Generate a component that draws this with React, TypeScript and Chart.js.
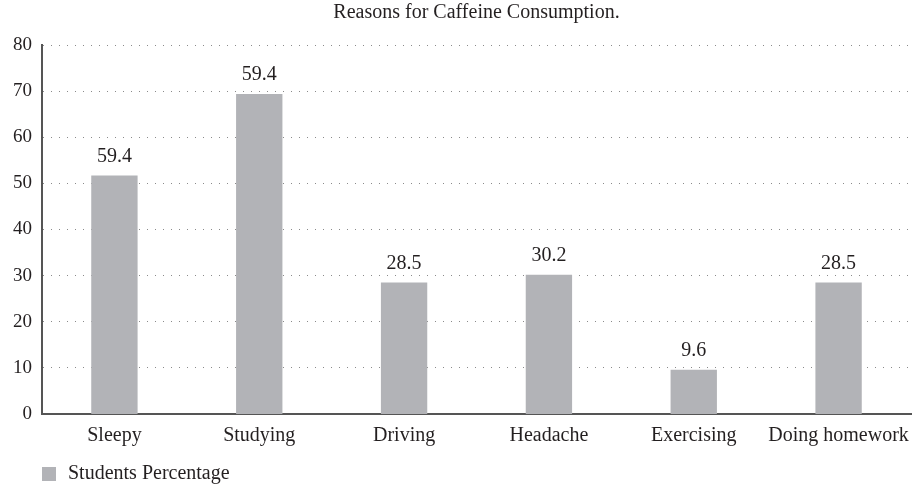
import React, { useEffect, useRef } from "react";
import { Chart, registerables } from "chart.js";

Chart.register(...registerables);

const categories = ["Sleepy", "Studying", "Driving", "Headache", "Exercising", "Doing homework"];
const barValues = [51.7, 69.4, 28.5, 30.2, 9.6, 28.5];
const valueLabels = ["59.4", "59.4", "28.5", "30.2", "9.6", "28.5"];
const yTicks = [0, 10, 20, 30, 40, 50, 60, 70, 80];
const seriesName = "Students Percentage";
const titleText = "Reasons for Caffeine Consumption.";

const FONT = "'Liberation Serif', 'Times New Roman', serif";
const TEXT_COLOR = "#231f20";
const BAR_COLOR = "#b2b3b7";

const overlayPlugin = {
  id: "overlay",
  afterDraw(chart: any) {
    const ctx = chart.ctx;
    const area = chart.chartArea;
    const meta = chart.getDatasetMeta(0);
    ctx.save();
    ctx.fillStyle = TEXT_COLOR;
    // value labels
    ctx.font = `20px ${FONT}`;
    ctx.textAlign = "center";
    ctx.textBaseline = "alphabetic";
    meta.data.forEach((bar: any, i: number) => {
      ctx.fillText(valueLabels[i], bar.x, bar.y - 14);
    });
    // title
    ctx.font = `20px ${FONT}`;
    ctx.textBaseline = "middle";
    ctx.fillText(titleText, (area.left + area.right) / 2, 13);
    // legend
    ctx.fillStyle = BAR_COLOR;
    ctx.fillRect(area.left, 467, 14, 14);
    ctx.fillStyle = TEXT_COLOR;
    ctx.textAlign = "left";
    ctx.font = `20px ${FONT}`;
    ctx.fillText(seriesName, area.left + 26, 474);
    ctx.restore();
  },
};

export default function App() {
  const ref = useRef<HTMLCanvasElement | null>(null);
  useEffect(() => {
    document.body.style.margin = "0";
    const chart = new Chart(ref.current as HTMLCanvasElement, {
      type: "bar",
      data: {
        labels: categories,
        datasets: [
          {
            label: seriesName,
            data: barValues,
            backgroundColor: BAR_COLOR,
            categoryPercentage: 1,
            barPercentage: 0.32,
          },
        ],
      },
      options: {
        animation: false,
        responsive: false,
        layout: { padding: { top: 45, right: 5, left: 0, bottom: 0 } },
        plugins: { legend: { display: false }, title: { display: false }, tooltip: { enabled: false } },
        scales: {
          x: {
            grid: { display: false, drawTicks: false },
            border: { display: true, color: "#555555", width: 2 },
            ticks: { color: TEXT_COLOR, font: { family: FONT, size: 20 }, padding: 10, maxRotation: 0, autoSkip: false },
            afterFit: (s: any) => {
              s.height = 71;
              s.paddingLeft = 0;
              s.paddingRight = 0;
            },
          },
          y: {
            min: 0,
            max: 80,
            afterBuildTicks: (s: any) => {
              s.ticks = yTicks.map((v) => ({ value: v }));
            },
            grid: {
              color: "#8a8a8a",
              lineWidth: (c: any) => (c.tick && c.tick.value === 0 ? 0 : 1),
              drawTicks: false,
            },
            border: { display: true, color: "#555555", width: 2, dash: [1, 7] },
            ticks: { color: TEXT_COLOR, font: { family: FONT, size: 19 }, padding: 10 },
            afterFit: (s: any) => {
              s.width = 42;
            },
          },
        },
      },
      plugins: [overlayPlugin],
    } as any);
    return () => chart.destroy();
  }, []);
  return <canvas ref={ref} width={916} height={485} style={{ display: "block" }} />;
}
